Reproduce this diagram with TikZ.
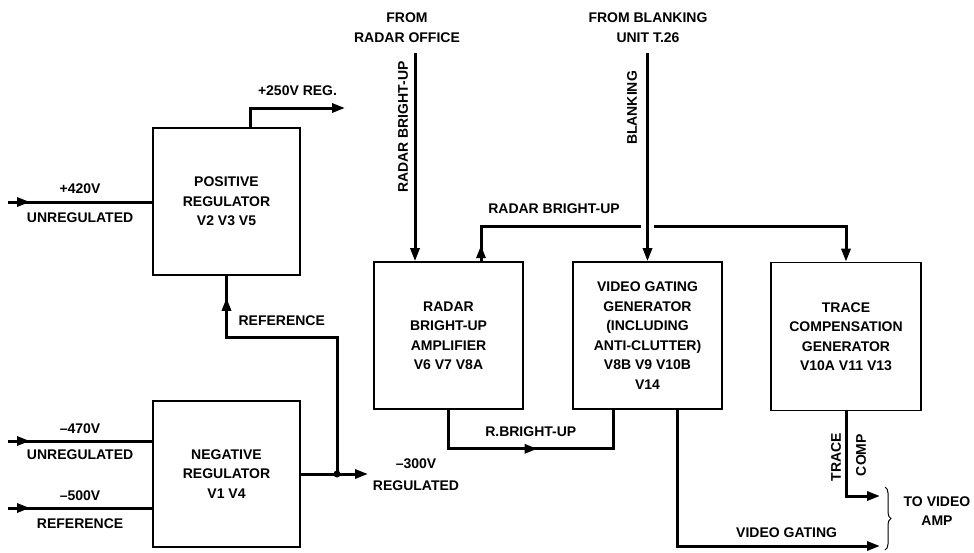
\documentclass[tikz,border=0pt]{standalone}
\usepackage{fontspec}
\setmainfont{Liberation Sans}
\usetikzlibrary{arrows.meta,positioning,calc,decorations.markings,decorations.pathreplacing}
\tikzset{
    wire/.style  = {line width=3pt},
    arr/.style   = {wire, -{Triangle[length=13pt,width=9pt]}},
    tipat/.style = {postaction={decorate}, decoration={markings, mark=at position #1 with {\arrow{Triangle[length=13pt,width=9pt]}}}},
    unit/.style  = {rectangle, draw, line width=1.6pt, align=center, inner sep=0pt,
                    font=\fontsize{14}{19.5}\selectfont\bfseries},
    lbl/.style   = {align=center, inner sep=0pt, font=\fontsize{14}{19.5}\selectfont\bfseries}
}
\begin{document}
\begin{tikzpicture}[x=1pt, y=-1pt]
    \useasboundingbox (0,0) rectangle (974,552);

    % Regulator blocks
    \node[unit, minimum width=147pt, minimum height=147pt] (posreg) at (226.5,201.5) {POSITIVE\\REGULATOR\\V2 V3 V5};
    \node[unit, minimum width=147pt, minimum height=146pt] (negreg) at (226.5,474) {NEGATIVE\\REGULATOR\\V1 V4};

    % Signal blocks
    \node[unit, minimum width=149pt, minimum height=147pt] (radamp) at (448.5,335.5) {RADAR\\BRIGHT-UP\\AMPLIFIER\\V6 V7 V8A};
    \node[unit, minimum width=149pt, minimum height=147pt] (vidgate) at (647.5,335.5) {VIDEO GATING\\GENERATOR\\(INCLUDING\\ANTI-CLUTTER)\\V8B V9 V10B\\V14};
    \node[unit, minimum width=150pt, minimum height=148pt] (tracecomp) at (846,336.5) {TRACE\\COMPENSATION\\GENERATOR\\V10A V11 V13};

    % Free ends
    \coordinate (in420) at (8,202);
    \coordinate (in470) at (8,441);
    \coordinate (in500) at (8,508);
    \coordinate (reg250) at (345,108);
    \coordinate (reg300) at (368,474);
    \coordinate (junc) at (337,474);
    \coordinate (refbend) at (337,337);
    \coordinate (radin) at (415,53);
    \coordinate (blankin) at (647.5,53);
    \coordinate (busy) at (0,226);
    \coordinate (tcout) at (880,496);
    \coordinate (vgout) at (880,546);

    % Loose labels
    \node[lbl] (radoffice) at (407,27.5) {FROM\\RADAR OFFICE};
    \node[lbl] (blankunit) at (648,27.5) {FROM BLANKING\\UNIT T.26};
    \node[lbl, rotate=90] (radlbl) at (403,127) {RADAR BRIGHT-UP};
    \node[lbl, rotate=90] (blanklbl) at (632,108) {BLANKING};
    \node[lbl, rotate=90] (tracelbl) at (836,457) {TRACE};
    \node[lbl, rotate=90] (complbl) at (861,455) {COMP};
    \node[lbl] (lbl300) at (416,474.5) {--300V\\[3pt]REGULATED};
    \node[lbl] (vidamp) at (937,511) {TO VIDEO\\AMP};

    % Supply inputs
    \draw[wire, tipat=22pt] (in420) -- node[lbl, above=7pt] {+420V} node[lbl, below=9pt] {UNREGULATED} (in420 -| posreg.west);
    \draw[wire, tipat=22pt] (in470) -- node[lbl, above=6pt] {--470V} node[lbl, below=7pt] {UNREGULATED} (in470 -| negreg.west);
    \draw[wire, tipat=22pt] (in500) -- node[lbl, above=6pt] {--500V} node[lbl, below=9pt] {REFERENCE} (in500 -| negreg.west);

    % Supply outputs
    \draw[arr] ([xshift=23.5pt]posreg.north) |- node[lbl, pos=0.75, above=11pt] {+250V REG.} (reg250);
    \draw[arr] (negreg.east) -- (reg300);
    \fill (junc) circle (3.5pt);
    \draw[wire, tipat=-22pt] (junc) -- (refbend) -| node[lbl, pos=0.25, above=10pt] {REFERENCE} (posreg.south);

    % Bright-up and blanking
    \draw[arr] (radin) -- (radin |- radamp.north);
    \draw[arr, tipat=16pt] ([xshift=32.5pt]radamp.north) |- node[lbl, pos=0.6, above=11pt] {RADAR BRIGHT-UP} (tracecomp.north |- busy) -- (tracecomp.north);
    \draw[draw=white, line width=13pt] ($(blankin |- busy)+(0,-5)$) -- ($(blankin |- busy)+(0,5)$);
    \draw[arr] (blankin) -- (vidgate.north);
    \draw[wire, tipat=128pt] (radamp.south) -- ++(0,39) -| node[lbl, pos=0.25, above=11pt] {R.BRIGHT-UP} ([xshift=-34.5pt]vidgate.south);

    % To video amp
    \draw[arr] ([xshift=29.5pt]vidgate.south) |- node[lbl, pos=0.77, above=7pt] {VIDEO GATING} (vgout);
    \draw[arr] (tracecomp.south) |- (tcout);
    \draw[line width=1pt, decorate, decoration={brace, amplitude=6pt}] (885,487) -- (885,550);
\end{tikzpicture}
\end{document}
